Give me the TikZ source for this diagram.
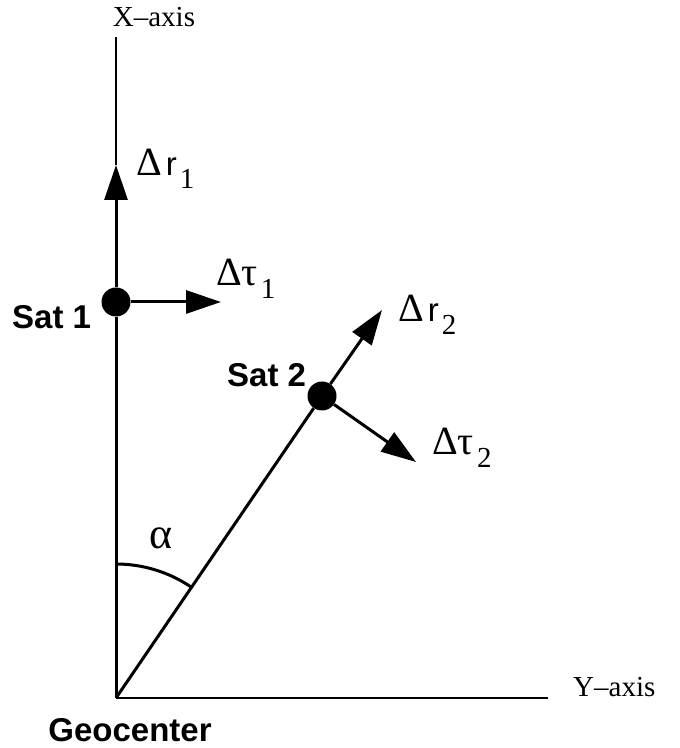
\documentclass[tikz,border=0pt]{standalone}
\usepackage{fontspec}
\setmainfont{Liberation Serif}
\newfontfamily\lsans{Liberation Sans}
\usetikzlibrary{arrows.meta}
\tikzset{
  thickline/.style={line width=3pt},
  thinline/.style={line width=1.5pt},
  axisline/.style={line width=2pt},
  vec/.style={line width=3pt,-{Triangle[length=35pt,width=23pt]}},
  dot/.style={circle,fill=black,inner sep=0pt,minimum size=29pt},
  bold/.style={inner sep=0pt,font=\lsans\bfseries\fontsize{33}{38}\selectfont},
  serif/.style={inner sep=0pt,font=\fontsize{29}{34}\selectfont},
  greek/.style={inner sep=0pt,font=\fontsize{40}{46}\selectfont},
}
\newcommand{\sub}[1]{\raisebox{-13pt}{\fontsize{29}{34}\selectfont #1}}
\newcommand{\rr}{{\lsans\fontsize{33}{38}\selectfont r}}
\begin{document}
\begin{tikzpicture}[x=1pt,y=1pt]
\useasboundingbox (0,0) rectangle (680,748);
\coordinate (O) at (116,50);
\coordinate (xtop) at (116,711);
\coordinate (yend) at (548,50);
\coordinate (r1) at (116,583);
\coordinate (t1) at (221,446);
\coordinate (r2) at (382,438);
\coordinate (t2) at (416,286);
\coordinate (arcstart) at (116,184);
\node[dot] (s1) at (116,446) {};
\node[dot] (s2) at (322,352) {};
% axes and radius lines
\draw[thickline] (O) -- (s1);
\draw[thinline] (r1) -- (xtop);
\draw[axisline] (O) -- (yend);
\draw[thickline] (O) -- (s2);
% angle arc
\draw[thickline] (arcstart) arc[start angle=90,end angle=55.7,radius=134];
% vectors
\draw[vec] (s1) -- (r1);
\draw[vec] (s1) -- (t1);
\draw[vec] (s2) -- (r2);
\draw[vec] (s2) -- (t2);
% labels
\node[serif,anchor=base] (xl) at (154,721) {X–axis};
\node[serif,anchor=base west] (yl) at (573,51) {Y–axis};
\node[bold,anchor=base] (geo) at (130,6) {Geocenter};
\node[bold,anchor=base west] (sat1l) at (12,419) {Sat 1};
\node[bold,anchor=base west] (sat2l) at (227,361) {Sat 2};
\node[font=\fontsize{44}{50}\selectfont,inner sep=0pt] (al) at (161,210) {α};
\node[greek,anchor=base west] (dr1) at (136,572) {Δ\hspace{4pt}\rr\hspace{3pt}\sub{1}};
\node[greek,anchor=base west] (dt1) at (216,462) {Δτ\hspace{3pt}\sub{1}};
\node[greek,anchor=base west] (dr2) at (398,426) {Δ\hspace{4pt}\rr\hspace{3pt}\sub{2}};
\node[greek,anchor=base west] (dt2) at (432,293) {Δτ\hspace{3pt}\sub{2}};
\end{tikzpicture}
\end{document}
